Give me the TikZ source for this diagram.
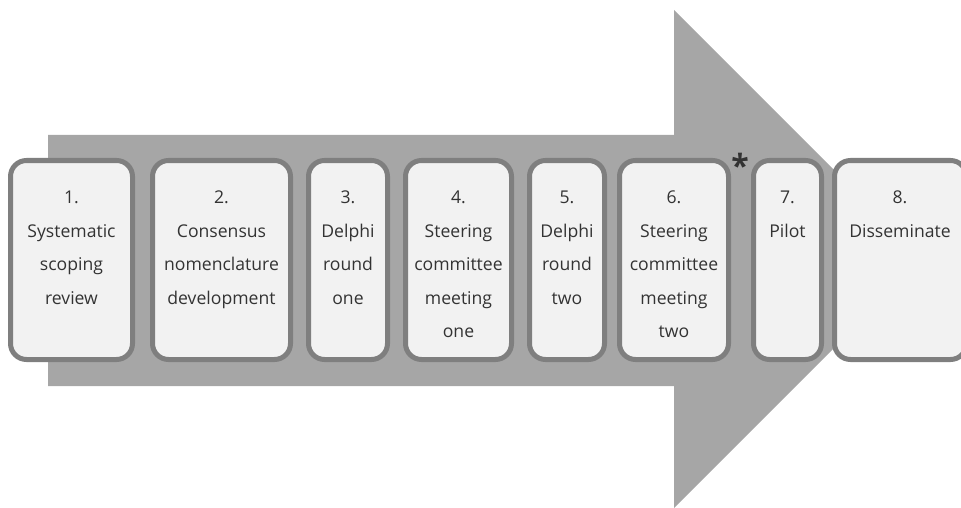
\documentclass[tikz,border=0pt]{standalone}
\usepackage{fontspec}
\setmainfont{Open Sans}
\definecolor{arrowgray}{HTML}{A6A6A6}
\definecolor{boxborder}{HTML}{7F7F7F}
\definecolor{boxfill}{HTML}{F2F2F2}
\definecolor{txt}{HTML}{333333}
\begin{document}
\begin{tikzpicture}[x=1pt,y=-1pt,
  stepbox/.style={draw=boxborder, fill=boxfill, line width=5pt, rounded corners=16pt,
    minimum height=199pt, inner sep=0pt},
  steptext/.style={anchor=north, inner sep=0pt, align=center, text=txt,
    font=\fontsize{17.6}{33.5}\selectfont}]
\useasboundingbox (0,0) rectangle (961,508);
\clip (0,0) rectangle (961,508);
\fill[arrowgray] (48,135) -- (674,135) -- (674,10) -- (923,259) -- (674,508) -- (674,386) -- (48,386) -- cycle;
\node[stepbox, minimum width=122pt] (b1) at (71.5,260) {};
\node[stepbox, minimum width=138pt] (b2) at (221.5,260) {};
\node[stepbox, minimum width=79pt] (b3) at (348,260) {};
\node[stepbox, minimum width=106pt] (b4) at (458.5,260) {};
\node[stepbox, minimum width=75pt] (b5) at (567,260) {};
\node[stepbox, minimum width=109pt] (b6) at (674,260) {};
\node[stepbox, minimum width=68pt] (b7) at (787.5,260) {};
\node[stepbox, minimum width=132pt] (b8) at (900.5,260) {};
\node[steptext] (t1) at (71.5,180) {\strut 1.\\Systematic\\scoping\\review};
\node[steptext] (t2) at (221.5,180) {\strut 2.\\Consensus\\nomenclature\\development};
\node[steptext] (t3) at (348,180) {\strut 3.\\Delphi\\round\\one};
\node[steptext] (t4) at (458.5,180) {\strut 4.\\Steering\\committee\\meeting\\one};
\node[steptext] (t5) at (567,180) {\strut 5.\\Delphi\\round\\two};
\node[steptext] (t6) at (674,180) {\strut 6.\\Steering\\committee\\meeting\\two};
\node[steptext] (t7) at (787.5,180) {\strut 7.\\Pilot};
\node[steptext] (t8) at (900,180) {\strut 8.\\Disseminate};
\node[inner sep=0pt, text=txt, font=\fontsize{32}{32}\selectfont\bfseries] (star) at (740,165) {*};
\end{tikzpicture}
\end{document}
